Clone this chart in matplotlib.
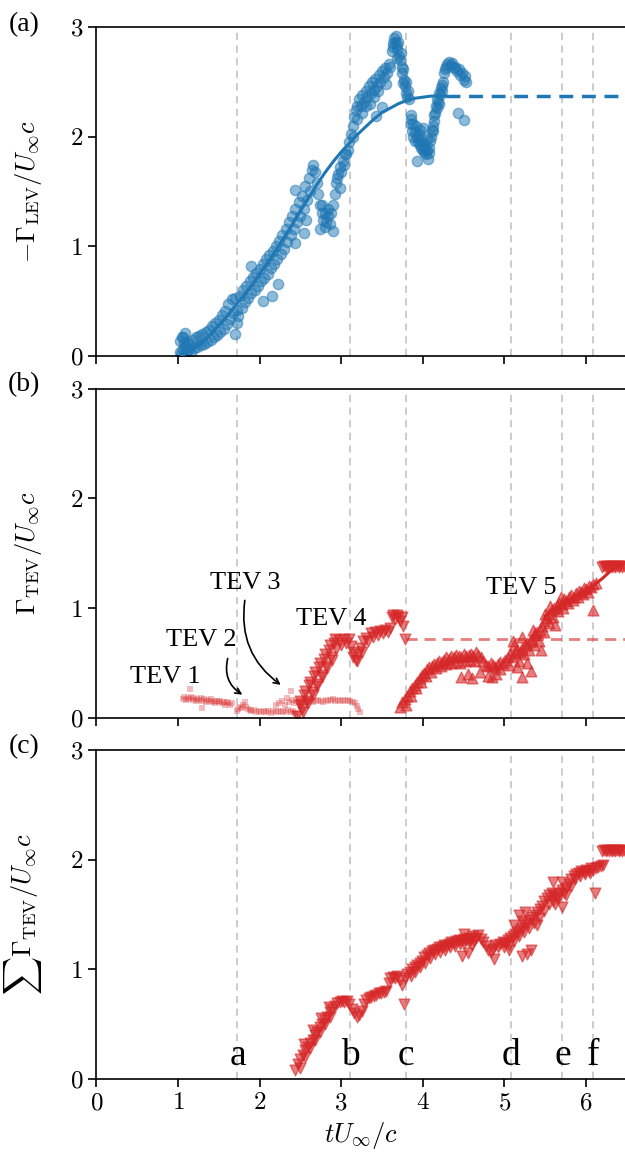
import numpy as np
import matplotlib
matplotlib.use("Agg")
import matplotlib.pyplot as plt

plt.rcParams['font.family'] = 'serif'
plt.rcParams['font.serif'] = ['cmr10']
plt.rcParams['mathtext.fontset'] = 'cm'
plt.rcParams['axes.formatter.use_mathtext'] = True

BLUE = '#1f77b4'
RED = '#d62728'
TXT = 'Liberation Serif'

# snapshot times (vertical lines a-f)
snap_t = [1.73, 3.11, 3.79, 5.08, 5.71, 6.09]
snap_lbl = ['a', 'b', 'c', 'd', 'e', 'f']

# ---- (a) LEV circulation ----
lev_t = [1.02, 1.03, 1.04, 1.05, 1.06, 1.07, 1.08, 1.09, 1.10, 1.11, 1.12, 1.14, 1.16, 1.18, 1.20,
         1.22, 1.24, 1.26, 1.28, 1.30, 1.32, 1.34, 1.36, 1.38, 1.40, 1.42, 1.44, 1.46, 1.48, 1.50,
         1.52, 1.54, 1.56, 1.58, 1.60, 1.62, 1.64, 1.66, 1.68, 1.70, 1.72, 1.74, 1.76, 1.78, 1.80,
         1.82, 1.84, 1.86, 1.88, 1.90, 1.92, 1.94, 1.96, 1.98, 2.00, 2.02, 2.04, 2.06, 2.08, 2.10,
         2.12, 2.14, 2.16, 2.18, 2.20, 2.22, 2.24, 2.26, 2.28, 2.30, 2.32, 2.34, 2.36, 2.38, 2.40,
         2.42, 2.44, 2.46, 2.48, 2.50, 2.52, 2.54, 2.56, 2.58, 2.60, 2.62, 2.64, 2.66, 2.68, 2.70,
         2.72, 2.74, 2.76, 2.78, 2.80, 2.82, 2.84, 2.86, 2.88, 2.90, 2.92, 2.94, 2.96, 2.98, 3.00,
         3.02, 3.04, 3.06, 3.08, 3.10, 3.12, 3.14, 3.16, 3.18, 3.20, 3.22, 3.24, 3.26, 3.28, 3.30,
         3.32, 3.34, 3.36, 3.38, 3.40, 3.42, 3.44, 3.46, 3.48, 3.50, 3.52, 3.54, 3.56, 3.58, 3.60,
         3.62, 3.63, 3.64, 3.65, 3.66, 3.67, 3.68, 3.69, 3.70, 3.71, 3.72, 3.73, 3.74, 3.75, 3.76,
         3.77, 3.78, 3.79, 3.80, 3.81, 3.82, 3.83, 3.85, 3.86, 3.87, 3.88, 3.90, 3.91, 3.92, 3.93,
         3.94, 3.95, 3.96, 3.97, 3.98, 3.99, 4.00, 4.01, 4.02, 4.03, 4.04, 4.05, 4.06, 4.07, 4.08,
         4.09, 4.10, 4.11, 4.12, 4.13, 4.14, 4.15, 4.16, 4.17, 4.18, 4.19, 4.20, 4.21, 4.22, 4.23,
         4.24, 4.25, 4.26, 4.27, 4.28, 4.30, 4.32, 4.34, 4.36, 4.38, 4.40, 4.42, 4.44, 4.46, 4.48,
         4.50, 4.52, 4.53]
lev_v = [0.04, 0.14, 0.02, 0.17, 0.06, 0.12, 0.00, 0.09, 0.03, 0.13, 0.05, 0.11, 0.03, 0.15, 0.07,
         0.17, 0.08, 0.18, 0.10, 0.20, 0.11, 0.22, 0.13, 0.24, 0.15, 0.27, 0.17, 0.30, 0.19, 0.33,
         0.22, 0.37, 0.25, 0.41, 0.29, 0.47, 0.34, 0.52, 0.39, 0.53, 0.42, 0.36, 0.55, 0.44, 0.60,
         0.49, 0.64, 0.53, 0.68, 0.57, 0.72, 0.60, 0.76, 0.64, 0.79, 0.68, 0.84, 0.71, 0.88, 0.75,
         0.92, 0.80, 0.96, 0.84, 1.00, 0.88, 1.05, 0.93, 1.10, 0.98, 1.16, 1.04, 1.22, 1.10, 1.28,
         1.16, 1.34, 1.22, 1.40, 1.28, 1.46, 1.34, 1.55, 1.42, 1.62, 1.50, 1.70, 1.74, 1.68, 1.58,
         1.48, 1.38, 1.30, 1.24, 1.30, 1.22, 1.28, 1.20, 1.30, 1.38, 1.48, 1.58, 1.66, 1.72, 1.68,
         1.78, 1.74, 1.84, 1.88, 1.95, 2.02, 2.10, 2.18, 2.24, 2.28, 2.34, 2.28, 2.38, 2.32, 2.42,
         2.36, 2.46, 2.40, 2.50, 2.43, 2.53, 2.46, 2.56, 2.50, 2.60, 2.54, 2.63, 2.58, 2.66, 2.64,
         2.78, 2.85, 2.82, 2.90, 2.86, 2.92, 2.84, 2.80, 2.86, 2.74, 2.70, 2.76, 2.64, 2.58, 2.62,
         2.52, 2.46, 2.50, 2.40, 2.36, 2.42, 2.34, 2.20, 2.16, 2.05, 2.00, 2.04, 1.96, 2.10, 2.00,
         1.95, 2.02, 1.92, 1.98, 1.90, 1.94, 1.88, 1.92, 1.86, 1.90, 1.84, 1.88, 1.80, 1.85, 1.90,
         1.96, 2.00, 2.06, 2.10, 2.05, 2.14, 2.22, 2.28, 2.26, 2.34, 2.32, 2.40, 2.38, 2.44, 2.42,
         2.47, 2.50, 2.58, 2.62, 2.64, 2.66, 2.68, 2.65, 2.67, 2.63, 2.64, 2.60, 2.62, 2.56, 2.58,
         2.52, 2.55, 2.50]
lev_out_t = [1.06, 1.09, 1.70, 1.72, 1.89, 2.04, 2.15, 2.23, 2.43, 2.43, 2.55, 2.57, 2.74, 2.80,
             2.90, 2.99, 3.43, 3.50, 3.76, 3.86, 4.43, 4.51, 3.93, 4.00, 3.20, 3.25, 3.30, 3.35,
             3.40, 3.45, 3.55, 2.76, 2.84, 2.95, 3.05, 3.15, 3.88, 3.97, 4.05, 4.14, 4.20, 3.68]
lev_out_v = [0.17, 0.21, 0.20, 0.30, 0.82, 0.50, 0.55, 0.66, 1.03, 1.51, 1.12, 1.24, 1.16, 1.18,
             1.14, 1.53, 2.19, 2.27, 2.49, 2.12, 2.22, 2.15, 1.78, 2.08, 2.16, 2.22, 2.28, 2.30,
             2.36, 2.42, 2.48, 1.38, 1.34, 1.62, 1.84, 2.00, 2.12, 2.06, 1.98, 2.20, 2.30, 2.72]
lev_fit_t = [1.05, 1.3, 1.6, 1.9, 2.2, 2.5, 2.6, 2.7, 2.8, 2.9, 3.0, 3.1, 3.2, 3.3, 3.4, 3.5,
             3.6, 3.7, 3.8, 3.9, 4.0, 4.1, 4.2, 4.28]
lev_fit_v = [0.0, 0.12, 0.36, 0.64, 0.96, 1.32, 1.44, 1.56, 1.67, 1.77, 1.86, 1.94, 2.02, 2.09,
             2.16, 2.22, 2.26, 2.30, 2.33, 2.35, 2.36, 2.37, 2.37, 2.37]
lev_plateau = 2.37

# ---- (b) TEV circulation ----
tev1_t = [1.06, 1.08, 1.10, 1.12, 1.14, 1.16, 1.18, 1.20, 1.22, 1.24, 1.26, 1.28, 1.30, 1.32, 1.34,
          1.36, 1.38, 1.40, 1.42, 1.44, 1.46, 1.48, 1.50, 1.52, 1.54, 1.56, 1.58, 1.60, 1.62, 1.64,
          1.66, 1.15, 1.29]
tev1_v = [0.17, 0.19, 0.16, 0.18, 0.17, 0.19, 0.16, 0.18, 0.15, 0.17, 0.16, 0.18, 0.15, 0.17, 0.14,
          0.16, 0.15, 0.17, 0.14, 0.15, 0.13, 0.15, 0.14, 0.15, 0.13, 0.14, 0.12, 0.14, 0.13, 0.12,
          0.13, 0.26, 0.09]
tev2_t = [1.72, 1.74, 1.76, 1.78, 1.80, 1.82, 1.84, 1.86, 1.88, 1.90, 1.93, 1.96, 1.99, 2.02, 2.05,
          2.08, 2.11, 2.14, 2.17, 2.20, 2.23, 2.26, 2.29, 2.32, 2.35, 2.38, 2.41, 2.44, 2.46]
tev2_v = [0.06, 0.08, 0.10, 0.09, 0.12, 0.14, 0.10, 0.08, 0.07, 0.06, 0.07, 0.05, 0.06, 0.05, 0.06,
          0.05, 0.06, 0.04, 0.06, 0.05, 0.06, 0.05, 0.06, 0.05, 0.07, 0.05, 0.06, 0.04, 0.03]
tev3_t = [2.20, 2.24, 2.28, 2.31, 2.34, 2.36, 2.38, 2.40, 2.42, 2.45, 2.48, 2.51, 2.54, 2.57, 2.60,
          2.63, 2.66, 2.69, 2.72, 2.75, 2.78, 2.81, 2.84, 2.87, 2.90, 2.93, 2.96, 2.99, 3.02, 3.05,
          3.08, 3.11, 3.14, 3.17, 3.19, 3.21, 3.23]
tev3_v = [0.12, 0.13, 0.15, 0.12, 0.18, 0.14, 0.24, 0.16, 0.13, 0.15, 0.14, 0.16, 0.15, 0.14, 0.16,
          0.15, 0.14, 0.15, 0.16, 0.15, 0.14, 0.16, 0.15, 0.16, 0.17, 0.15, 0.16, 0.15, 0.16, 0.15,
          0.16, 0.15, 0.14, 0.13, 0.11, 0.08, 0.05]
tev4_t = [2.46, 2.49, 2.52, 2.55, 2.58, 2.61, 2.64, 2.67, 2.70, 2.73, 2.76, 2.79, 2.82, 2.85, 2.88,
          2.91, 2.94, 2.97, 3.00, 3.03, 3.06, 3.09, 3.12, 3.15, 3.18, 3.21, 3.24, 3.27, 3.30, 3.33,
          3.36, 3.39, 3.42, 3.45, 3.48, 3.51, 3.54, 3.57, 3.60, 3.62, 3.64, 3.66, 3.68, 3.70, 3.72,
          3.74, 3.76, 3.78,
          2.50, 2.56, 2.62, 2.68, 2.74, 2.80, 2.86, 2.92, 3.14, 3.20, 3.26, 2.53, 2.59, 2.65, 2.71,
          2.77, 2.83, 2.89]
tev4_v = [0.02, 0.12, 0.08, 0.21, 0.15, 0.30, 0.23, 0.38, 0.31, 0.46, 0.39, 0.54, 0.47, 0.62, 0.55,
          0.68, 0.63, 0.71, 0.66, 0.72, 0.68, 0.72, 0.65, 0.60, 0.53, 0.58, 0.64, 0.70, 0.73, 0.70,
          0.77, 0.74, 0.78, 0.75, 0.79, 0.77, 0.80, 0.78, 0.82, 0.92, 0.94, 0.90, 0.94, 0.92, 0.88,
          0.92, 0.84, 0.72,
          0.15, 0.24, 0.33, 0.42, 0.50, 0.58, 0.66, 0.72, 0.55, 0.52, 0.60, 0.05, 0.13, 0.21, 0.29,
          0.37, 0.45, 0.53]
tev4_plateau = 0.72
tev5_t = [3.72, 3.75, 3.78, 3.81, 3.84, 3.87, 3.90, 3.93, 3.96, 3.99, 4.02, 4.05, 4.08, 4.11, 4.14,
          4.17, 4.20, 4.23, 4.26, 4.29, 4.32, 4.35, 4.38, 4.41, 4.44, 4.47, 4.50, 4.53, 4.56, 4.59,
          4.62, 4.65, 4.68, 4.71, 4.74, 4.77, 4.80, 4.83, 4.86, 4.89, 4.92, 4.95, 4.98, 5.01, 5.04,
          5.07, 5.10, 5.13, 5.16, 5.19, 5.22, 5.25, 5.28, 5.31, 5.34, 5.37, 5.40, 5.43, 5.46, 5.49,
          5.52, 5.55, 5.58, 5.61, 5.64, 5.67, 5.70, 5.73, 5.76, 5.79, 5.82, 5.85, 5.88, 5.91, 5.94,
          5.97, 6.00, 6.03, 6.06, 6.09, 6.12,
          4.47, 4.55, 4.60, 4.85, 4.90, 5.15, 5.22, 5.33, 5.22, 5.38, 5.10, 5.69, 5.62, 6.08, 5.45,
          4.70, 5.28, 4.80, 4.95,
          3.80, 3.86, 3.92, 3.98, 4.04, 4.10, 4.16, 4.22, 4.28, 4.34, 4.40, 4.46, 4.52, 4.58, 4.64,
          5.05, 5.12, 5.18, 5.24, 5.30, 5.36, 5.42, 5.48, 5.54, 5.60, 5.66, 5.72, 5.78, 5.84, 5.90,
          5.96, 6.02, 5.50, 5.56, 5.35]
tev5_v = [0.10, 0.14, 0.17, 0.20, 0.24, 0.27, 0.30, 0.33, 0.36, 0.39, 0.41, 0.44, 0.46, 0.47, 0.49,
          0.50, 0.52, 0.51, 0.53, 0.55, 0.54, 0.56, 0.55, 0.57, 0.56, 0.55, 0.58, 0.56, 0.57, 0.58,
          0.56, 0.60, 0.57, 0.55, 0.52, 0.48, 0.47, 0.50, 0.48, 0.46, 0.49, 0.51, 0.50, 0.53, 0.55,
          0.58, 0.56, 0.60, 0.62, 0.60, 0.64, 0.66, 0.68, 0.70, 0.72, 0.75, 0.78, 0.80, 0.84, 0.88,
          0.91, 0.95, 0.98, 1.00, 1.02, 1.05, 1.04, 1.08, 1.06, 1.10, 1.12, 1.10, 1.14, 1.16, 1.15,
          1.18, 1.17, 1.20, 1.19, 1.22, 1.23,
          0.37, 0.40, 0.36, 0.37, 0.40, 0.46, 0.37, 0.43, 0.74, 0.77, 0.70, 1.10, 0.85, 0.98, 0.62,
          0.42, 0.50, 0.38, 0.44,
          0.12, 0.20, 0.27, 0.33, 0.38, 0.42, 0.45, 0.47, 0.49, 0.50, 0.51, 0.50, 0.52, 0.53, 0.52,
          0.48, 0.66, 0.52, 0.58, 0.62, 0.66, 0.70, 0.78, 0.86, 0.92, 0.97, 1.00, 1.05, 1.07, 1.10,
          1.13, 1.15, 0.95, 1.02, 0.80]
tev5_top_t = [6.20, 6.22, 6.24, 6.26, 6.28, 6.30, 6.32, 6.34, 6.36, 6.38, 6.40, 6.42, 6.44, 6.46]
tev5_top_v = [1.37, 1.38, 1.37, 1.38, 1.37, 1.38, 1.37, 1.38, 1.37, 1.38, 1.37, 1.38, 1.37, 1.38]
tev5_fit_t = [5.50, 5.70, 5.90, 6.08, 6.20, 6.33]
tev5_fit_v = [0.93, 1.03, 1.12, 1.20, 1.27, 1.36]

# ---- (c) total TEV circulation ----
sum_t = [2.44, 2.47, 2.50, 2.53, 2.56, 2.59, 2.62, 2.65, 2.68, 2.71, 2.74, 2.77, 2.80, 2.83, 2.86,
         2.89, 2.92, 2.95, 2.98, 3.01, 3.04, 3.07, 3.10, 3.13, 3.16, 3.19, 3.22, 3.25, 3.28, 3.31,
         3.34, 3.37, 3.40, 3.43, 3.46, 3.49, 3.52, 3.55, 3.58, 3.60, 3.63, 3.66, 3.69, 3.72, 3.75,
         3.78, 3.81, 3.84, 3.87, 3.90, 3.93, 3.96, 3.99, 4.02, 4.05, 4.08, 4.11, 4.14, 4.17, 4.20,
         4.23, 4.26, 4.29, 4.32, 4.35, 4.38, 4.41, 4.44, 4.47, 4.50, 4.53, 4.56, 4.59, 4.62, 4.65,
         4.68, 4.71, 4.74, 4.77, 4.80, 4.83, 4.86, 4.89, 4.92, 4.95, 4.98, 5.01, 5.04, 5.07, 5.10,
         5.13, 5.16, 5.19, 5.22, 5.25, 5.28, 5.31, 5.34, 5.37, 5.40, 5.43, 5.46, 5.49, 5.52, 5.55,
         5.58, 5.61, 5.64, 5.67, 5.70, 5.73, 5.76, 5.79, 5.82, 5.85, 5.88, 5.91, 5.94, 5.97, 6.00,
         6.03, 6.06, 6.09, 6.12, 6.15, 6.18, 6.21,
         3.77, 4.48, 4.55, 4.87, 5.05, 5.21, 5.28, 5.33, 5.18, 5.25, 5.59, 5.70, 5.62, 6.11, 4.50,
         4.60, 2.55, 2.65, 2.75, 2.85,
         2.50, 2.56, 2.62, 2.68, 2.74, 2.80, 2.86, 3.85, 3.91, 3.97, 4.03, 4.09, 4.15, 4.21, 4.27,
         4.33, 4.39, 4.45, 4.51, 4.57, 4.63, 5.00, 5.06, 5.12, 5.18, 5.24, 5.30, 5.36, 5.42, 5.48,
         5.54, 5.60, 5.66, 5.75, 5.81, 5.87, 5.93, 5.99, 6.05, 5.12, 5.22, 5.40, 5.71]
sum_v = [0.08, 0.14, 0.18, 0.22, 0.26, 0.29, 0.33, 0.36, 0.40, 0.43, 0.47, 0.50, 0.54, 0.57, 0.61,
         0.64, 0.67, 0.69, 0.70, 0.71, 0.70, 0.71, 0.68, 0.64, 0.60, 0.57, 0.58, 0.62, 0.68, 0.72,
         0.74, 0.75, 0.76, 0.77, 0.78, 0.78, 0.79, 0.80, 0.88, 0.92, 0.93, 0.92, 0.94, 0.90, 0.86,
         0.92, 0.96, 0.98, 1.00, 1.02, 1.04, 1.06, 1.08, 1.11, 1.13, 1.15, 1.17, 1.18, 1.19, 1.20,
         1.20, 1.22, 1.21, 1.23, 1.25, 1.24, 1.26, 1.27, 1.26, 1.28, 1.27, 1.29, 1.28, 1.30, 1.29,
         1.31, 1.28, 1.25, 1.21, 1.18, 1.16, 1.19, 1.22, 1.20, 1.23, 1.25, 1.24, 1.27, 1.29, 1.30,
         1.32, 1.34, 1.36, 1.38, 1.40, 1.42, 1.45, 1.48, 1.50, 1.52, 1.55, 1.58, 1.62, 1.65, 1.68,
         1.70, 1.68, 1.66, 1.70, 1.72, 1.70, 1.74, 1.78, 1.82, 1.85, 1.87, 1.88, 1.90, 1.89, 1.91,
         1.90, 1.92, 1.91, 1.92, 1.93, 1.94, 1.95,
         0.68, 1.12, 1.15, 1.09, 1.18, 1.12, 1.14, 1.18, 1.50, 1.52, 1.80, 1.57, 1.60, 1.70, 1.32,
         1.22, 0.32, 0.45, 0.56, 0.66,
         0.10, 0.20, 0.28, 0.36, 0.43, 0.50, 0.57, 0.94, 0.98, 1.02, 1.06, 1.10, 1.14, 1.16, 1.18,
         1.20, 1.21, 1.23, 1.24, 1.25, 1.26, 1.20, 1.22, 1.26, 1.30, 1.34, 1.38, 1.42, 1.47, 1.53,
         1.60, 1.62, 1.64, 1.68, 1.76, 1.82, 1.85, 1.87, 1.88, 1.40, 1.44, 1.40, 1.80]
sum_top_t = [6.20, 6.22, 6.24, 6.26, 6.28, 6.30, 6.32, 6.34, 6.36, 6.38, 6.40, 6.42, 6.44, 6.46]
sum_top_v = [2.08, 2.09, 2.08, 2.09, 2.08, 2.09, 2.08, 2.09, 2.08, 2.09, 2.08, 2.09, 2.08, 2.09]

fig = plt.figure(figsize=(6.25, 11.55), dpi=100)
L, W, H = 0.154, 0.849, 0.2848
ax_a = fig.add_axes([L, 0.6918, W, H])
ax_b = fig.add_axes([L, 0.3786, W, H])
ax_c = fig.add_axes([L, 0.0658, W, H])

for ax in (ax_a, ax_b, ax_c):
    ax.set_xlim(0, 6.5)
    ax.set_ylim(0, 3)
    ax.set_xticks(range(7))
    ax.set_yticks([0, 1, 2, 3])
    ax.spines['right'].set_visible(False)
    for s in ('left', 'bottom', 'top'):
        ax.spines[s].set_linewidth(1.2)
    ax.tick_params(direction='out', length=6, width=1.2, labelsize=18)
    for t in snap_t:
        ax.axvline(t, color='#c8c8c8', ls=(0, (4, 3)), lw=1.3, zorder=0)
ax_a.tick_params(labelbottom=False)
ax_b.tick_params(labelbottom=False)

# (a)
ax_a.scatter(lev_t, lev_v, s=55, color=BLUE, alpha=0.5, edgecolor=BLUE, lw=1, zorder=2)
ax_a.scatter(lev_out_t, lev_out_v, s=55, color=BLUE, alpha=0.5, edgecolor=BLUE, lw=1, zorder=2)
ax_a.plot(lev_fit_t, lev_fit_v, color=BLUE, lw=2.2, zorder=3)
ax_a.plot([lev_fit_t[-1], 6.5], [lev_plateau, lev_plateau], color=BLUE, lw=2.5,
          ls=(0, (4, 2.5)), zorder=3)
ax_a.set_ylabel(r'$-\Gamma_{\rm LEV}/U_\infty c$', fontsize=19)

# (b)
for tt, vv in ((tev1_t, tev1_v), (tev2_t, tev2_v), (tev3_t, tev3_v)):
    ax_b.scatter(tt, vv, s=14, marker='s', color=RED, alpha=0.3, lw=0, zorder=2)
ax_b.scatter(tev4_t, tev4_v, s=60, marker='v', color=RED, alpha=0.6, edgecolor=RED, lw=1, zorder=2)
ax_b.plot([3.80, 6.5], [tev4_plateau, tev4_plateau], color=RED, alpha=0.6, lw=2,
          ls=(0, (4, 2.5)), zorder=1)
ax_b.scatter(tev5_t, tev5_v, s=60, marker='^', color=RED, alpha=0.6, edgecolor=RED, lw=1, zorder=2)
ax_b.scatter(tev5_top_t, tev5_top_v, s=60, marker='v', color=RED, alpha=0.6, edgecolor=RED, lw=1,
             zorder=2)
ax_b.plot(tev5_fit_t, tev5_fit_v, color=RED, lw=2.2, zorder=3)
ax_b.set_ylabel(r'$\Gamma_{\rm TEV}/U_\infty c$', fontsize=19)

kw = dict(fontsize=19, family=TXT, ha='center', va='center')
ax_b.text(0.85, 0.37, 'TEV 1', **kw)
ax_b.text(1.29, 0.71, 'TEV 2', **kw)
ax_b.text(1.82, 1.23, 'TEV 3', **kw)
ax_b.text(2.88, 0.90, 'TEV 4', **kw)
ax_b.text(5.21, 1.18, 'TEV 5', **kw)
arrow = dict(arrowstyle='->', color='black', lw=1.2, shrinkA=0, shrinkB=0)
ax_b.annotate('', xy=(1.79, 0.21), xytext=(1.61, 0.54),
              arrowprops=dict(connectionstyle='arc3,rad=0.35', **arrow))
ax_b.annotate('', xy=(2.26, 0.30), xytext=(1.82, 1.07),
              arrowprops=dict(connectionstyle='arc3,rad=0.3', **arrow))

# (c)
ax_c.scatter(sum_t, sum_v, s=60, marker='v', color=RED, alpha=0.6, edgecolor=RED, lw=1, zorder=2)
ax_c.scatter(sum_top_t, sum_top_v, s=60, marker='v', color=RED, alpha=0.6, edgecolor=RED, lw=1,
             zorder=2)
ax_c.set_ylabel(r'$\sum\Gamma_{\rm TEV}/U_\infty c$', fontsize=19)
ax_c.set_xlabel(r'$tU_\infty/c$', fontsize=19)
for t, lbl in zip(snap_t, snap_lbl):
    ax_c.text(t, 0.21, lbl, fontsize=27, family=TXT, ha='center', va='center')

for ax in (ax_a, ax_b, ax_c):
    ax.yaxis.set_label_coords(-0.098, 0.5)

fig.text(0.038, 1 - 25 / 1155, '(a)', fontsize=20, family=TXT, ha='center', va='center')
fig.text(0.038, 1 - 385 / 1155, '(b)', fontsize=20, family=TXT, ha='center', va='center')
fig.text(0.038, 1 - 747 / 1155, '(c)', fontsize=20, family=TXT, ha='center', va='center')

fig.savefig('out.png', dpi=100)
